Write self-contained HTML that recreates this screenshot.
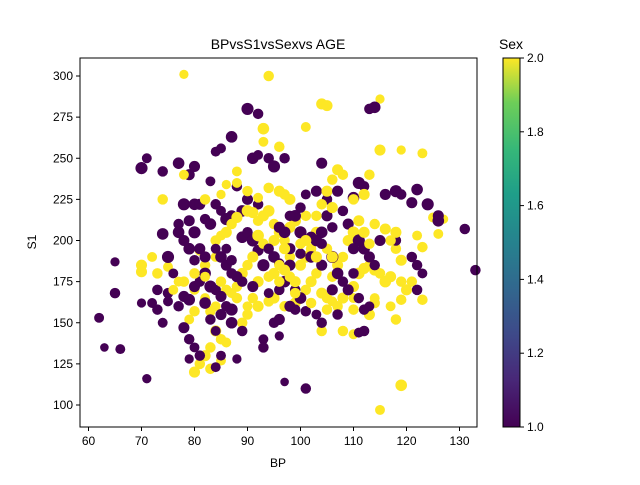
<!DOCTYPE html>
<html><head><meta charset="utf-8"><style>
body{margin:0;background:#fff;}
svg text{font-family:"Liberation Sans",sans-serif;fill:#000;}
</style></head><body>
<svg id="chart" width="640" height="480">
<defs><linearGradient id="vir" x1="0" y1="1" x2="0" y2="0">
<stop offset="0" stop-color="#440154"/><stop offset="0.13" stop-color="#482878"/><stop offset="0.25" stop-color="#3e4989"/><stop offset="0.38" stop-color="#31688e"/><stop offset="0.5" stop-color="#26828e"/><stop offset="0.63" stop-color="#1f9e89"/><stop offset="0.75" stop-color="#35b779"/><stop offset="0.88" stop-color="#6ece58"/><stop offset="1" stop-color="#fde725"/></linearGradient></defs>
<g id="marks"></g>
<rect x="80" y="58" width="397" height="369" fill="none" stroke="#000" stroke-width="1"/>
<g id="xticks"></g>
<g id="yticks"></g>
<text x="278" y="49" font-size="14" text-anchor="middle">BPvsS1vsSexvs AGE</text>
<text x="278" y="467" font-size="12" text-anchor="middle">BP</text>
<text x="36" y="242" font-size="12" text-anchor="middle" transform="rotate(-90 36 242)">S1</text>
<rect x="503" y="58" width="17" height="369" fill="url(#vir)" stroke="#000" stroke-width="1"/>
<g id="cticks"></g>
<text x="511" y="49" font-size="14" text-anchor="middle">Sex</text>
</svg>
<script>
const xTicks=[60,70,80,90,100,110,120,130];
const yTicks=[100,125,150,175,200,225,250,275,300];
const cTicks=[1.0,1.2,1.4,1.6,1.8,2.0];
// [BP, S1, AGE] for Sex = 1
const sex1Points=[[70,244,60],[71,250,40],[74,242,45],[77,247,55],[79,240,50],[78,222,60],[80,222,55],[81,222,50],[84,254,40],[85,256,40],[80,245,50],[83,236,40],[87,263,55],[90,280,60],[92,277,45],[91,250,55],[92,252,40],[94,250,45],[95,245,60],[97,250,45],[88,233,45],[90,225,50],[92,222,45],[89,218,55],[87,215,50],[86,213,60],[84,222,45],[85,218,40],[83,210,55],[82,213,45],[79,212,50],[77,210,45],[77,205,55],[78,200,50],[80,205,60],[79,195,55],[81,195,50],[80,188,45],[82,190,50],[84,195,40],[85,190,55],[86,185,50],[87,188,45],[86,195,40],[89,202,55],[90,205,45],[91,200,60],[92,194,50],[94,195,45],[95,190,55],[93,185,60],[96,186,45],[98,185,50],[74,204,55],[75,190,60],[76,180,40],[73,170,45],[72,162,40],[70,162,35],[73,158,45],[74,150,40],[75,168,45],[75,163,40],[77,160,45],[78,166,50],[79,164,55],[80,172,50],[81,175,45],[82,180,55],[83,172,60],[84,170,45],[85,166,50],[82,162,55],[86,160,45],[87,158,60],[85,155,50],[83,152,45],[84,145,40],[87,150,55],[89,145,45],[78,147,50],[79,140,45],[80,135,40],[79,128,35],[81,130,45],[85,130,40],[88,128,35],[84,123,40],[62,153,40],[63,135,30],[66,134,40],[65,187,35],[65,168,45],[71,116,35],[97,114,30],[101,110,45],[99,215,55],[100,220,45],[101,228,40],[103,230,50],[100,205,60],[102,202,50],[104,205,55],[106,208,45],[105,215,50],[105,225,45],[104,247,50],[103,200,55],[108,218,45],[109,210,50],[110,226,55],[111,235,60],[112,233,45],[113,280,45],[114,281,55],[116,228,50],[118,230,60],[119,228,45],[121,223,50],[122,231,55],[124,222,60],[126,215,50],[126,212,55],[131,207,45],[133,182,45],[112,195,55],[113,190,50],[114,185,45],[111,200,60],[110,195,50],[118,200,45],[121,190,45],[123,180,40],[122,185,45],[122,170,45],[108,175,45],[109,170,50],[107,180,55],[106,190,60],[104,185,50],[102,190,55],[100,192,45],[98,195,50],[97,205,55],[98,215,45],[96,208,50],[99,170,45],[100,165,55],[101,157,45],[103,155,40],[104,150,45],[106,170,50],[111,165,45],[112,158,45],[113,160,40],[112,145,45],[111,144,40],[99,158,45],[98,160,50],[93,140,40],[93,135,45],[95,150,45],[96,152,50],[97,175,55],[96,170,45],[94,168,40],[91,172,50],[89,175,45],[88,178,50],[87,180,45],[107,230,50],[104,198,45],[110,180,45],[115,200,50],[107,155,45],[96,142,35]];
// [BP, S1, AGE] for Sex = 2
const sex2Points=[[78,301,35],[94,300,45],[104,283,50],[105,282,50],[115,286,35],[101,269,40],[93,268,55],[96,257,45],[93,260,40],[88,242,40],[86,234,35],[85,228,35],[82,225,45],[78,240,40],[74,225,45],[81,194,45],[70,185,50],[70,181,50],[72,190,40],[73,180,45],[75,184,40],[78,175,45],[80,170,40],[82,185,45],[84,190,40],[84,200,45],[85,203,40],[86,205,50],[87,210,45],[88,214,50],[90,218,55],[91,217,50],[92,212,45],[93,215,50],[94,218,55],[95,210,45],[96,205,50],[97,200,45],[98,208,50],[99,212,55],[101,215,45],[103,205,50],[102,195,45],[101,190,55],[100,185,50],[98,190,45],[95,200,50],[93,198,45],[92,203,55],[91,190,50],[90,185,45],[89,180,50],[88,172,45],[87,168,40],[86,170,45],[84,160,40],[83,157,45],[82,165,40],[80,157,45],[79,152,40],[84,145,50],[85,140,45],[83,135,45],[82,130,50],[81,125,45],[80,120,50],[83,122,45],[85,127,40],[86,138,40],[89,150,45],[90,155,45],[92,160,50],[94,163,45],[95,165,50],[97,160,45],[99,162,50],[100,165,55],[101,170,45],[102,175,50],[103,180,45],[104,168,50],[105,165,45],[106,163,40],[107,160,45],[108,165,50],[109,170,45],[110,172,50],[111,180,55],[112,183,50],[113,185,45],[114,182,50],[115,180,45],[116,175,55],[117,178,50],[118,195,45],[119,188,50],[119,175,45],[120,170,50],[121,175,45],[122,203,40],[123,253,40],[119,255,35],[115,255,50],[123,196,45],[125,214,40],[126,204,40],[127,213,35],[116,175,45],[114,162,45],[113,155,50],[110,158,45],[110,165,40],[105,158,45],[104,145,45],[108,145,45],[110,143,40],[114,165,40],[119,112,55],[115,97,40],[119,164,45],[123,164,45],[118,152,45],[117,160,40],[106,178,45],[107,185,50],[108,190,45],[109,200,50],[110,205,55],[111,212,50],[110,225,45],[112,228,50],[113,240,45],[108,240,45],[107,243,50],[106,237,45],[105,230,50],[104,222,45],[106,220,50],[103,215,45],[98,225,50],[97,228,45],[96,230,50],[94,232,45],[92,226,40],[90,230,45],[88,235,40],[106,190,50],[105,195,45],[103,190,50],[99,168,45],[97,182,50],[96,185,45],[95,180,50],[94,178,45],[92,175,50],[91,165,45],[90,160,40],[88,165,45],[85,175,45],[82,178,40],[80,180,45],[77,175,40],[76,170,40],[101,200,50],[100,198,45],[97,195,50],[113,198,45],[112,205,50],[114,210,45],[116,207,50],[117,200,45],[118,205,50],[102,162,45],[99,175,50],[98,178,45],[96,175,45]];
const sx=v=>88.5+(v-60)*5.3;
const sy=v=>405-(v-100)*1.645;
const cy=v=>427-(v-1)*369;
const NS='http://www.w3.org/2000/svg';
const g=document.getElementById('marks');
const seq=[];
const n=Math.max(sex1Points.length,sex2Points.length);
for(let i=0;i<n;i++){if(i<sex1Points.length)seq.push([sex1Points[i],1]);if(i<sex2Points.length)seq.push([sex2Points[i],2]);}
seq.forEach(([p,s])=>{
 const c=document.createElementNS(NS,'circle');
 c.setAttribute('cx',sx(p[0]));c.setAttribute('cy',sy(p[1]));
 c.setAttribute('r',Math.sqrt(p[2]/Math.PI)*100/72);
 c.setAttribute('fill',s===1?'#440154':'#fde725');
 
 
 g.appendChild(c);
});
const xt=document.getElementById('xticks');
xTicks.forEach(t=>{
 const x=sx(t);
 xt.insertAdjacentHTML('beforeend',`<line x1="${x}" x2="${x}" y1="427" y2="431" stroke="#000"/><text x="${x}" y="445" font-size="12" text-anchor="middle">${t}</text>`);
});
const yt=document.getElementById('yticks');
yTicks.forEach(t=>{
 const y=sy(t);
 yt.insertAdjacentHTML('beforeend',`<line x1="76" x2="80" y1="${y}" y2="${y}" stroke="#000"/><text x="73" y="${y+4}" font-size="12" text-anchor="end">${t}</text>`);
});
const ct=document.getElementById('cticks');
cTicks.forEach(t=>{
 const y=cy(t);
 ct.insertAdjacentHTML('beforeend',`<line x1="520" x2="524" y1="${y}" y2="${y}" stroke="#000"/><text x="527" y="${y+4}" font-size="12">${t.toFixed(1)}</text>`);
});
</script>
</body></html>
